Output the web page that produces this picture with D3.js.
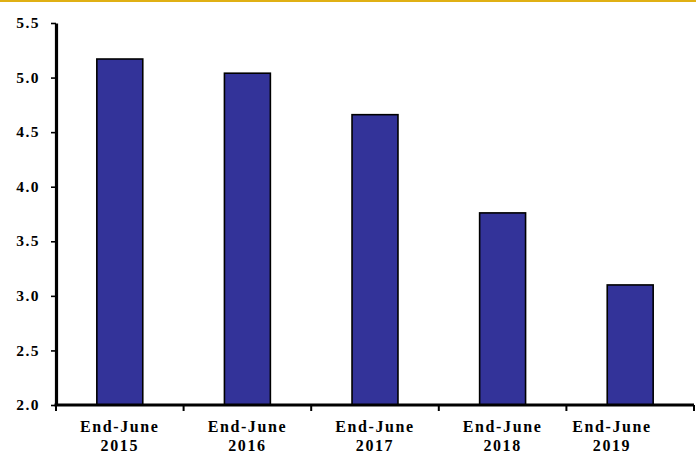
<!DOCTYPE html>
<html>
<head>
<meta charset="utf-8">
<script src="https://cdn.jsdelivr.net/npm/d3@7/dist/d3.min.js"></script>
<style>
  html, body { margin: 0; padding: 0; background: #ffffff; }
  svg { display: block; }
  .tick-label { font-family: "Liberation Serif", "Times New Roman", serif; font-weight: bold; fill: #000; }
</style>
</head>
<body>
<svg id="chart" width="696" height="454"></svg>
<script>
// Period labels (two lines each) and values
const periods = ["End-June 2015", "End-June 2016", "End-June 2017", "End-June 2018", "End-June 2019"];
const values = [5.17, 5.04, 4.66, 3.76, 3.10];
const yTicks = [2.0, 2.5, 3.0, 3.5, 4.0, 4.5, 5.0, 5.5];

const W = 696, H = 454;
const plot = { left: 56, right: 694, top: 23, bottom: 405 };

const svg = d3.select("#chart");

// Gold rule across the top
svg.append("rect")
  .attr("x", 0).attr("y", 0)
  .attr("width", W).attr("height", 2)
  .attr("fill", "#E0B014");

const x = d3.scaleBand()
  .domain(periods)
  .range([plot.left, plot.right])
  .paddingInner(0.64)
  .paddingOuter(0.32);

const y = d3.scaleLinear()
  .domain([2.0, 5.5])
  .range([plot.bottom, plot.top]);

// Bars
svg.append("g")
  .selectAll("rect")
  .data(values)
  .join("rect")
  .attr("x", (d, i) => x(periods[i]))
  .attr("y", d => y(d))
  .attr("width", x.bandwidth())
  .attr("height", d => y(2.0) - y(d))
  .attr("fill", "#333399")
  .attr("stroke", "#000")
  .attr("stroke-width", 1.6);

// Y axis
const yAxis = svg.append("g")
  .attr("transform", `translate(${plot.left},0)`)
  .call(d3.axisLeft(y)
    .tickValues(yTicks)
    .tickFormat(d3.format(".1f"))
    .tickSize(5)
    .tickSizeOuter(0)
    .tickPadding(11));
yAxis.select(".domain").attr("stroke", "#000").attr("stroke-width", 3.2);
yAxis.selectAll(".tick line").attr("stroke", "#000").attr("stroke-width", 1.6);
yAxis.selectAll(".tick text")
  .attr("class", "tick-label")
  .attr("font-size", 15.5)
  .attr("letter-spacing", "1.5px")
  .attr("dy", "0.3em");

// X axis line with ticks at category boundaries
const step = x.step();
const boundaries = d3.range(periods.length + 1).map(i => plot.left + i * step);
const xAxis = svg.append("g");
xAxis.append("line")
  .attr("x1", plot.left - 1.5).attr("x2", plot.right)
  .attr("y1", y(2.0)).attr("y2", y(2.0))
  .attr("stroke", "#000").attr("stroke-width", 3.2);
xAxis.selectAll("line.tk")
  .data(boundaries)
  .join("line")
  .attr("class", "tk")
  .attr("x1", d => d).attr("x2", d => d)
  .attr("y1", y(2.0)).attr("y2", y(2.0) + 6)
  .attr("stroke", "#000").attr("stroke-width", 2);

// Category labels, two lines, kept clear of the right margin
const labels = xAxis.selectAll("text.cat")
  .data(periods)
  .join("text")
  .attr("class", "tick-label cat")
  .attr("font-size", 16)
  .attr("letter-spacing", "1.6px")
  .attr("text-anchor", "middle")
  .attr("transform", d => {
    const cx = Math.min(x(d) + x.bandwidth() / 2, W - 84);
    return `translate(${cx},0)`;
  });
labels.each(function(d) {
  const parts = d.split(" ");
  const t = d3.select(this);
  t.append("tspan").attr("x", 0).attr("y", 431.5).text(parts[0]);
  t.append("tspan").attr("x", 0).attr("y", 451).text(parts[1]);
});
</script>
</body>
</html>
